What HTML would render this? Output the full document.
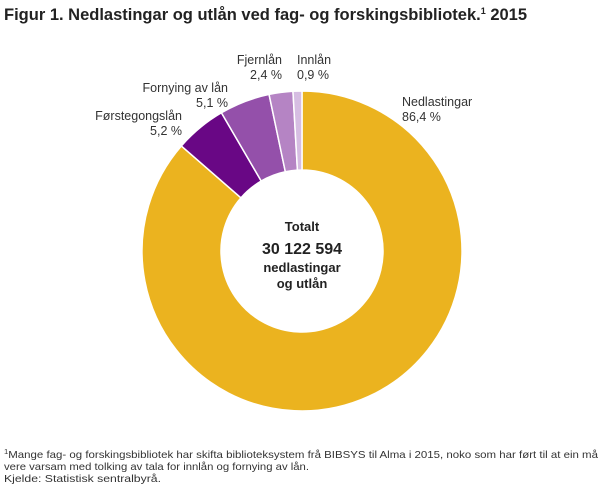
<!DOCTYPE html>
<html><head><meta charset="utf-8"><style>
body{margin:0;width:610px;height:488px;background:#fff;font-family:"Liberation Sans",sans-serif;overflow:hidden}
svg text{font-family:"Liberation Sans",sans-serif}
</style></head><body>
<svg id="s" width="610" height="488" viewBox="0 0 610 488">
<text x="4" y="20" font-size="16.5" font-weight="bold" fill="#222">Figur 1. Nedlastingar og utlån ved fag- og forskingsbibliotek.<tspan font-size="9" dy="-6">1</tspan><tspan dy="6"> 2015</tspan></text>
<g id="pie"></g>
<g font-size="12.5" fill="#333">
<text x="402" y="106">Nedlastingar</text><text x="402" y="121">86,4 %</text>
<text x="182" y="120" text-anchor="end">Førstegongslån</text><text x="182" y="135" text-anchor="end">5,2 %</text>
<text x="228" y="92" text-anchor="end">Fornying av lån</text><text x="228" y="107" text-anchor="end">5,1 %</text>
<text x="282" y="64" text-anchor="end">Fjernlån</text><text x="282" y="79" text-anchor="end">2,4 %</text>
<text x="297" y="64">Innlån</text><text x="297" y="79">0,9 %</text>
</g>
<g text-anchor="middle" fill="#222" font-weight="bold">
<text x="302" y="231" font-size="13">Totalt</text>
<text x="302" y="254" font-size="16">30 122 594</text>
<text x="302" y="272" font-size="13">nedlastingar</text>
<text x="302" y="288" font-size="13">og utlån</text>
</g>
<g font-size="10.5" fill="#333">
<text x="4" y="458" textLength="594" lengthAdjust="spacingAndGlyphs"><tspan font-size="7" dy="-4">1</tspan><tspan dy="4">Mange fag- og forskingsbibliotek har skifta biblioteksystem frå BIBSYS til Alma i 2015, noko som har ført til at ein må</tspan></text>
<text x="4" y="470" textLength="305" lengthAdjust="spacingAndGlyphs">vere varsam med tolking av tala for innlån og fornying av lån.</text>
<text x="4" y="482" textLength="157" lengthAdjust="spacingAndGlyphs">Kjelde: Statistisk sentralbyrå.</text>
</g>
</svg>
<script>
var cx=302,cy=251,R=160,r=81;
var d=[[86.4,"#ebb31f"],[5.2,"#690785"],[5.1,"#9450aa"],[2.4,"#b584c4"],[0.9,"#d6bde2"]];
var a=0,h="";
function p(rad,ang){ang=ang*Math.PI/180;return (cx+rad*Math.sin(ang)).toFixed(2)+","+(cy-rad*Math.cos(ang)).toFixed(2);}
d.forEach(function(e){var b=a+e[0]*3.6,l=(b-a)>180?1:0;
h+='<path d="M'+p(R,a)+' A'+R+','+R+' 0 '+l+' 1 '+p(R,b)+' L'+p(r,b)+' A'+r+','+r+' 0 '+l+' 0 '+p(r,a)+' Z" fill="'+e[1]+'" stroke="#fff" stroke-width="1.5"/>';a=b;});
document.getElementById("pie").innerHTML=h;
</script>
</body></html>
